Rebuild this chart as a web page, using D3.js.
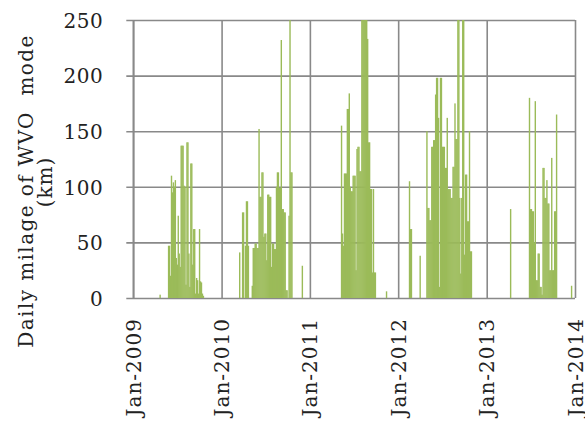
<!DOCTYPE html>
<html>
<head>
<meta charset="utf-8">
<script src="https://cdn.jsdelivr.net/npm/d3@7"></script>
<style>
  body { margin: 0; background: #fff; }
  svg text { font-family: "DejaVu Serif", serif; fill: #222; }
</style>
</head>
<body>
<div id="chart"></div>
<script>
// daily milage (km), one value every 4 days inside each running season
var stepDays = 4;
var start2009 = "2009-05-24";
var km2009 = [47, 47, 20, 110, 95, 104, 100, 106, 36, 30, 74, 40, 28, 137, 137, 137, 101, 100, 12, 140,
	140, 40, 10, 121, 121, 30, 62, 62, 4, 18, 16, 4, 62, 15, 14, 4, 2];
var start2010 = "2010-03-14";
var km2010 = [41, 0, 0, 77, 77, 0, 47, 87, 87, 47, 0, 0, 0, 11, 45, 45, 49, 49, 45, 45,
	152, 91, 91, 113, 113, 55, 58, 58, 34, 93, 93, 91, 91, 28, 49, 49, 44, 44, 100, 113,
	113, 99, 99, 232, 80, 80, 77, 77, 7, 7, 0, 74, 250, 113, 113];
var start2011 = "2011-05-09";
var km2011 = [155, 58, 47, 112, 112, 112, 170, 170, 184, 100, 96, 96, 110, 110, 110, 25, 134, 136, 136, 114,
	114, 250, 250, 250, 250, 250, 250, 233, 140, 140, 98, 98, 23, 98, 23, 23];
var start2012 = "2012-02-14";
var km2012 = [105, 62, 62, 0, 0, 0, 0, 0, 0, 0, 0, 38, 0, 0, 0, 0, 0, 0, 150, 81,
	81, 70, 70, 136, 136, 142, 142, 183, 198, 198, 162, 10, 198, 198, 136, 136, 136, 117, 117, 162,
	98, 98, 98, 90, 90, 118, 118, 175, 143, 143, 250, 250, 90, 22, 90, 250, 250, 39, 111, 111,
	69, 69, 150, 42, 42];
var start2013 = "2013-06-24";
var km2013 = [180, 80, 80, 78, 78, 50, 177, 16, 16, 40, 40, 10, 10, 3, 117, 117, 90, 90, 106, 85,
	85, 25, 25, 126, 25, 25, 78, 78, 165];
// isolated running days
var singleDates = ["2009-04-19", "2010-11-28", "2011-11-11", "2013-04-07", "2013-12-15"];
var singleKm = [3, 29, 6, 80, 11];

var yTicks = [0, 50, 100, 150, 200, 250];
var xTicks = ["2009-01-01", "2010-01-01", "2011-01-01", "2012-01-01", "2013-01-01", "2014-01-01"];

var parse = d3.timeParse("%Y-%m-%d");
var data = [];
[[start2009, km2009], [start2010, km2010], [start2011, km2011], [start2012, km2012], [start2013, km2013]]
	.forEach(function(s) {
		var d0 = parse(s[0]);
		s[1].forEach(function(v, i) {
			data.push({ date: d3.timeDay.offset(d0, i * stepDays), km: v });
		});
	});
singleDates.forEach(function(d, i) { data.push({ date: parse(d), km: singleKm[i] }); });

var W = 585, H = 423;
var margin = { top: 20, right: 10, bottom: 125, left: 133.3 };
var width = W - margin.left - margin.right;
var height = H - margin.top - margin.bottom;

var svg = d3.select("#chart")
	.append("svg")
	.attr("width", W)
	.attr("height", H)
	.append("g")
	.attr("transform", "translate(" + margin.left + "," + margin.top + ")");

var x = d3.scaleTime()
	.domain([parse(xTicks[0]), parse(xTicks[xTicks.length - 1])])
	.range([0, width]);
var y = d3.scaleLinear()
	.domain([0, 250])
	.range([height, 0]);

var gridColor = "#898989";

// horizontal grid + y labels
var yAxis = svg.append("g")
	.attr("transform", "translate(-7,0)")
	.call(d3.axisLeft(y)
		.tickValues(yTicks)
		.tickSizeInner(-(width + 7))
		.tickSizeOuter(0)
		.tickPadding(23)
		.tickFormat(d3.format("d")));
yAxis.select(".domain").remove();
yAxis.selectAll("line").attr("stroke", gridColor).attr("stroke-width", 1.6);
yAxis.selectAll("text").style("font-size", "20px").style("letter-spacing", "0.5px").attr("dy", "0.36em");

// vertical grid + x labels
var xAxis = svg.append("g")
	.attr("transform", "translate(0," + height + ")")
	.call(d3.axisBottom(x)
		.tickValues(xTicks.map(parse))
		.tickSizeInner(-height)
		.tickSizeOuter(0)
		.tickFormat(d3.timeFormat("%b-%Y")));
xAxis.select(".domain").remove();
xAxis.selectAll("line").attr("stroke", gridColor).attr("stroke-width", 1.6);
xAxis.selectAll("text")
	.style("font-size", "20px")
	.style("letter-spacing", "1px")
	.attr("text-anchor", "end")
	.attr("transform", "rotate(-90)")
	.attr("x", -20)
	.attr("y", 7)
	.attr("dy", null);

// left border
svg.append("line")
	.attr("x1", 0).attr("x2", 0)
	.attr("y1", 0).attr("y2", height)
	.attr("stroke", gridColor)
	.attr("stroke-width", 1.6);

// bars
svg.append("g")
	.selectAll("rect")
	.data(data)
	.enter()
	.append("rect")
	.attr("x", function(d) { return x(d.date); })
	.attr("y", function(d) { return y(d.km); })
	.attr("width", 1.4)
	.attr("height", function(d) { return height - y(d.km); })
	.attr("fill", "#9bbb59");

// axis title
var title = svg.append("g")
	.attr("transform", "translate(" + (-margin.left) + ",0)");
title.append("text")
	.attr("transform", "translate(33,171) rotate(-90)")
	.attr("text-anchor", "middle")
	.style("font-size", "20px")
	.style("letter-spacing", "1.4px")
	.text("Daily milage of WVO \u00a0mode");
title.append("text")
	.attr("transform", "translate(52,162) rotate(-90)")
	.attr("text-anchor", "middle")
	.style("font-size", "20px")
	.style("letter-spacing", "1px")
	.text("(km)");
</script>
</body>
</html>
